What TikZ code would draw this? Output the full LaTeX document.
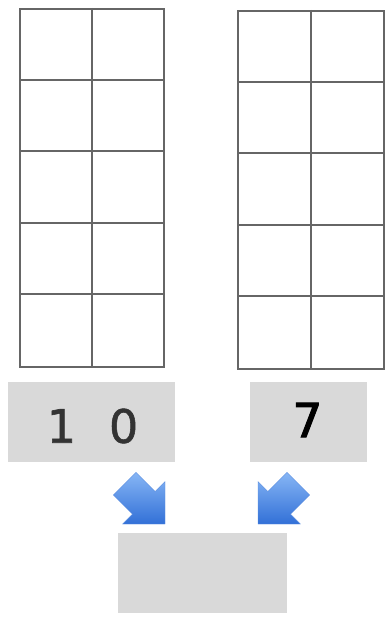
\documentclass[tikz,border=0pt]{standalone}
\usepackage{fontspec}
\setmainfont{DejaVu Sans}
\newfontfamily\tenfont[FakeBold=1.2]{DejaVu Sans}
\newfontfamily\sevfont[FakeBold=2.2]{DejaVu Sans}
\begin{document}
\begin{tikzpicture}[x=1pt,y=-1pt,
  gridline/.style={draw=black!60,line width=1.9pt},
  graybox/.style={fill=black!15,draw=none,inner sep=0pt,anchor=north west},
  arrowfill/.style={top color=arrowlight,bottom color=arrowdark,draw=arrowdark!80!white,line width=0.3pt,line join=miter}
]
\definecolor{arrowlight}{RGB}{135,182,245}
\definecolor{arrowdark}{RGB}{50,112,215}
\useasboundingbox (0,0) rectangle (391,617);
% left grid
\node[gridline,inner sep=0pt,anchor=north west,minimum width=144pt,minimum height=358pt] (gridL) at (19,8) {};
\draw[gridline] (gridL.north) -- (gridL.south);
\foreach \i in {1,2,3,4} \draw[gridline] ([yshift={-71.6pt*\i}]gridL.north west) -- ([yshift={-71.6pt*\i}]gridL.north east);
% right grid
\node[gridline,inner sep=0pt,anchor=north west,minimum width=146pt,minimum height=358pt] (gridR) at (237,10) {};
\draw[gridline] (gridR.north) -- (gridR.south);
\foreach \i in {1,2,3,4} \draw[gridline] ([yshift={-71.6pt*\i}]gridR.north west) -- ([yshift={-71.6pt*\i}]gridR.north east);
% boxes
\node[graybox,minimum width=167pt,minimum height=80pt] (boxL) at (8,382) {};
\node[graybox,minimum width=117pt,minimum height=80pt] (boxR) at (250,382) {};
\node[graybox,minimum width=169pt,minimum height=80pt] (boxB) at (118,533) {};
% digits
\node[font=\tenfont\fontsize{46}{46}\selectfont,text=black!80] (tenL) at (92.5,426) {1\hspace{33pt}0};
\node[font=\sevfont\fontsize{47}{47}\selectfont,text=black] (sev) at (307.5,420) {7};
% arrows
\path[arrowfill] (113.4,495) -- (136,472.4) -- (155.1,491.5) -- (165,481.6) -- (165,524) -- (122.6,524) -- (132.5,514.1) -- cycle;
\path[arrowfill] (309.6,495) -- (287,472.4) -- (267.9,491.5) -- (258,481.6) -- (258,524) -- (300.4,524) -- (290.5,514.1) -- cycle;
\end{tikzpicture}
\end{document}
